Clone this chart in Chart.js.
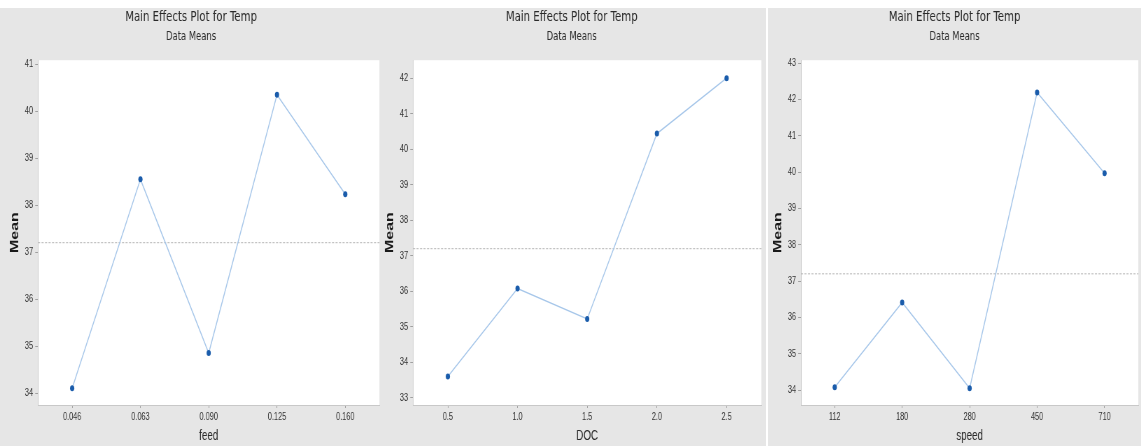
<!DOCTYPE html>
<html>
<head>
<meta charset="utf-8">
<script src="https://cdn.jsdelivr.net/npm/chart.js@4/dist/chart.umd.min.js"></script>
<style>
  body { margin: 0; background: #fff; width: 1141px; height: 446px; overflow: hidden; position: relative; }
  .panel { position: absolute; top: 8px; transform: scaleX(0.7); transform-origin: 0 0; }
</style>
</head>
<body>
<div class="panel" style="left:0px"><canvas id="c1" width="546" height="438" style="width:546px;height:438px"></canvas></div>
<div class="panel" style="left:382px"><canvas id="c2" width="549" height="438" style="width:549px;height:438px"></canvas></div>
<div class="panel" style="left:768px"><canvas id="c3" width="533" height="438" style="width:533px;height:438px"></canvas></div>
<script>
// data
let feedLevels = ['0.046', '0.063', '0.090', '0.125', '0.160'];
let feedMeans = [34.1, 38.55, 34.85, 40.35, 38.23];

let docLevels = ['0.5', '1.0', '1.5', '2.0', '2.5'];
let docMeans = [33.6, 36.08, 35.22, 40.44, 42.0];

let speedLevels = ['112', '180', '280', '450', '710'];
let speedMeans = [34.08, 36.41, 34.05, 42.19, 39.97];

let grandMean = 37.2;

const titleFont = 'DejaVu Sans, sans-serif';
const labelFont = 'Liberation Sans, Arial, sans-serif';

// grey panel, white plot area
const background = {
  id: 'background',
  beforeDraw(chart) {
    const { ctx, chartArea: a } = chart;
    ctx.save();
    ctx.fillStyle = '#e6e6e6';
    ctx.fillRect(0, 0, chart.width, chart.height);
    ctx.fillStyle = '#ffffff';
    ctx.fillRect(a.left, a.top, a.right - a.left, a.bottom - a.top);
    ctx.restore();
  }
};

// dashed reference line at the overall mean
const meanLine = {
  id: 'meanLine',
  beforeDatasetsDraw(chart) {
    const { ctx, chartArea: a } = chart;
    const y = chart.scales.y.getPixelForValue(grandMean);
    ctx.save();
    ctx.strokeStyle = '#b5b5b5';
    ctx.lineWidth = 1;
    ctx.setLineDash([3, 2]);
    ctx.beginPath();
    ctx.moveTo(a.left, y);
    ctx.lineTo(a.right, y);
    ctx.stroke();
    ctx.restore();
  }
};

function makePanel(id, labels, values, xName, yMin, yMax, plotLeft, padRight, meanPad) {
  let ctx = document.getElementById(id).getContext('2d');
  return new Chart(ctx, {
    type: 'line',
    data: {
      labels: labels,
      datasets: [{
        data: values,
        borderColor: '#a7c7ea',
        borderWidth: 1.4,
        pointRadius: 3,
        pointBackgroundColor: '#1a5cab',
        pointBorderColor: '#1a5cab',
        pointBorderWidth: 0,
        tension: 0
      }]
    },
    options: {
      animation: false,
      responsive: false,
      devicePixelRatio: 1,
      layout: { padding: { left: 0, right: padRight, top: 0, bottom: 0 } },
      plugins: {
        legend: { display: false },
        tooltip: { enabled: false },
        title: {
          display: true,
          text: 'Main Effects Plot for Temp',
          color: '#2a2a2a',
          font: { family: titleFont, size: 14.5, weight: 'normal' },
          padding: { top: 1, bottom: 3.6 }
        },
        subtitle: {
          display: true,
          text: 'Data Means',
          color: '#2a2a2a',
          font: { family: titleFont, size: 12 },
          padding: { top: 0, bottom: 15.8 }
        }
      },
      scales: {
        x: {
          offset: true,
          afterFit(s) { s.height = 41; },
          grid: { display: true, drawOnChartArea: false, drawTicks: true, tickLength: 3, color: '#a0a0a0' },
          border: { color: '#c8c8c8' },
          ticks: { color: '#333', padding: 3, font: { family: labelFont, size: 10.5 }, maxRotation: 0 },
          title: {
            display: true,
            text: xName,
            color: '#2a2a2a',
            font: { family: labelFont, size: 14 },
            padding: { top: 0, bottom: 1 }
          }
        },
        y: {
          min: yMin,
          max: yMax,
          afterFit(s) { s.width = plotLeft; },
          grid: { display: true, drawOnChartArea: false, drawTicks: true, tickLength: 4, color: '#a0a0a0' },
          border: { color: '#c8c8c8' },
          ticks: { stepSize: 1, includeBounds: false, color: '#333', padding: 3, font: { family: labelFont, size: 10.5 } },
          title: {
            display: true,
            text: 'Mean',
            color: '#1a1a1a',
            font: { family: labelFont, size: 16, weight: 'bold' },
            padding: { top: meanPad, bottom: 0 }
          }
        }
      }
    },
    plugins: [background, meanLine]
  });
}

makePanel('c1', feedLevels, feedMeans, 'feed', 33.745, 41.085, 54.3, 0, 11.8);
makePanel('c2', docLevels, docMeans, 'DOC', 32.8, 42.506, 44.3, 7, 1.8);
makePanel('c3', speedLevels, speedMeans, 'speed', 33.59, 43.08, 47.1, 0, 4.7);
</script>
</body>
</html>
